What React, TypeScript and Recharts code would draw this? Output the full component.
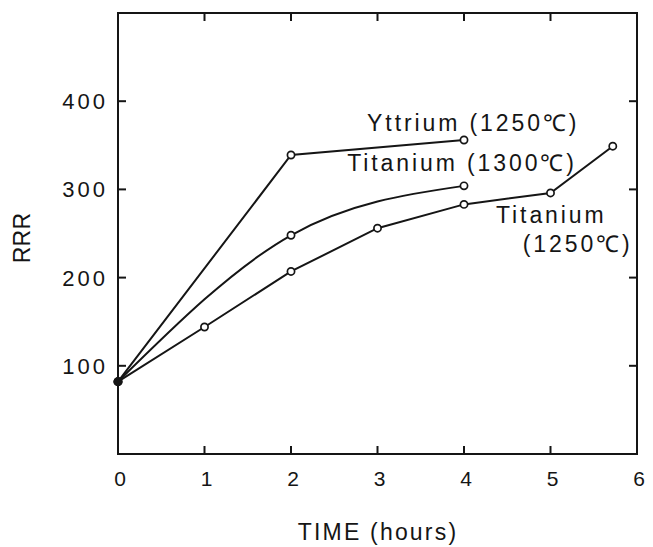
import { LineChart, Line, XAxis, YAxis, ReferenceDot, ReferenceArea } from 'recharts';

const FONT = '"Liberation Sans", Arial, Helvetica, sans-serif';
const INK = '#151515';

// plot box edges (follow from the chart margins and axis sizes below)
const PLOT = { left: 118, right: 637, top: 13, bottom: 454 };
const TICK = 8;

const timeTicks = [0, 1, 2, 3, 4, 5, 6];
const rrrTicks = [100, 200, 300, 400];

const yttriumTime = [0, 2, 4];
const yttriumRRR = [82, 339, 356];

const ti1300Time = [0, 2, 4];
const ti1300RRR = [82, 248, 304];

const ti1250Time = [0, 1, 2, 3, 4, 5, 5.72];
const ti1250RRR = [82, 144, 207, 256, 283, 296, 349];

const toPoints = (t: number[], v: number[]) => t.map((x, i) => ({ t: x, rrr: v[i] }));

const Marker = (props: any) => {
  const { cx, cy, index } = props;
  if (cx == null || cy == null) return null;
  return (
    <circle
      key={`m-${cx}-${cy}`}
      cx={cx}
      cy={cy}
      r={3.6}
      fill={index === 0 ? INK : '#fff'}
      stroke={INK}
      strokeWidth={1.7}
    />
  );
};

// inward tick marks on both opposite sides + the label
const TimeTick = (props: any) => {
  const { x, y, payload } = props;
  const edge = payload.value === 0 || payload.value === 6;
  return (
    <g>
      {!edge && <line x1={x} x2={x} y1={PLOT.bottom} y2={PLOT.bottom - TICK} stroke={INK} strokeWidth={2} />}
      {!edge && <line x1={x} x2={x} y1={PLOT.top} y2={PLOT.top + TICK} stroke={INK} strokeWidth={2} />}
      <text x={x + 2} y={y} dy="0.71em" textAnchor="middle" fontSize={21} fontFamily={FONT} fill={INK}>
        {payload.value}
      </text>
    </g>
  );
};

const RrrTick = (props: any) => {
  const { x, y, payload } = props;
  return (
    <g>
      <line x1={PLOT.left} x2={PLOT.left + TICK} y1={y} y2={y} stroke={INK} strokeWidth={2} />
      <line x1={PLOT.right} x2={PLOT.right - TICK} y1={y} y2={y} stroke={INK} strokeWidth={2} />
      <text x={x} y={y} dy="0.36em" textAnchor="end" fontSize={22} letterSpacing={3} fontFamily={FONT} fill={INK}>
        {payload.value}
      </text>
    </g>
  );
};

const note = (text: string) => ({
  content: (p: any) => (
    <text x={p.viewBox.x} y={p.viewBox.y} dy="0.36em" fontSize={23} letterSpacing={2.9} fontFamily={FONT} fill={INK}>
      {text}
    </text>
  ),
});

export default function App() {
  return (
    <div style={{ position: 'absolute', left: 0, top: 0, background: '#fff' }}>
      <LineChart width={653} height={547} margin={{ top: 13, right: 16, left: 0, bottom: 0 }}>
        <XAxis
          dataKey="t"
          type="number"
          domain={[0, 6]}
          ticks={timeTicks}
          tick={TimeTick}
          tickLine={false}
          tickSize={0}
          tickMargin={17}
          height={93}
          stroke={INK}
          strokeWidth={2}
          label={{
            content: () => (
              <text x={378} y={532} dy="0.36em" textAnchor="middle" fontSize={23} letterSpacing={2.2} fontFamily={FONT} fill={INK}>
                TIME (hours)
              </text>
            ),
          }}
        />
        <YAxis
          type="number"
          domain={[0, 500]}
          ticks={rrrTicks}
          tick={RrrTick}
          tickLine={false}
          tickSize={0}
          tickMargin={10}
          width={118}
          stroke={INK}
          strokeWidth={2}
          label={{
            content: () => (
              <text
                x={22}
                y={238}
                dy="0.36em"
                textAnchor="middle"
                transform="rotate(-90 22 238)"
                fontSize={23}
                letterSpacing={0.3}
                fontFamily={FONT}
                fill={INK}
              >
                RRR
              </text>
            ),
          }}
        />
        <ReferenceArea x1={0} x2={6} y1={0} y2={500} fill="none" stroke={INK} strokeWidth={2} fillOpacity={0} />
        <Line
          data={toPoints(ti1250Time, ti1250RRR)}
          dataKey="rrr"
          type="linear"
          stroke={INK}
          strokeWidth={2}
          dot={Marker}
          isAnimationActive={false}
        />
        <Line
          data={toPoints(ti1300Time, ti1300RRR)}
          dataKey="rrr"
          type="monotone"
          stroke={INK}
          strokeWidth={2}
          dot={Marker}
          isAnimationActive={false}
        />
        <Line
          data={toPoints(yttriumTime, yttriumRRR)}
          dataKey="rrr"
          type="linear"
          stroke={INK}
          strokeWidth={2}
          dot={Marker}
          isAnimationActive={false}
        />
        <ReferenceDot x={2.88} y={376} r={0} stroke="none" fill="none" label={note('Yttrium (1250℃)')} />
        <ReferenceDot x={2.65} y={330} r={0} stroke="none" fill="none" label={note('Titanium (1300℃)')} />
        <ReferenceDot x={4.37} y={271} r={0} stroke="none" fill="none" label={note('Titanium')} />
        <ReferenceDot x={4.68} y={238} r={0} stroke="none" fill="none" label={note('(1250℃)')} />
      </LineChart>
    </div>
  );
}
